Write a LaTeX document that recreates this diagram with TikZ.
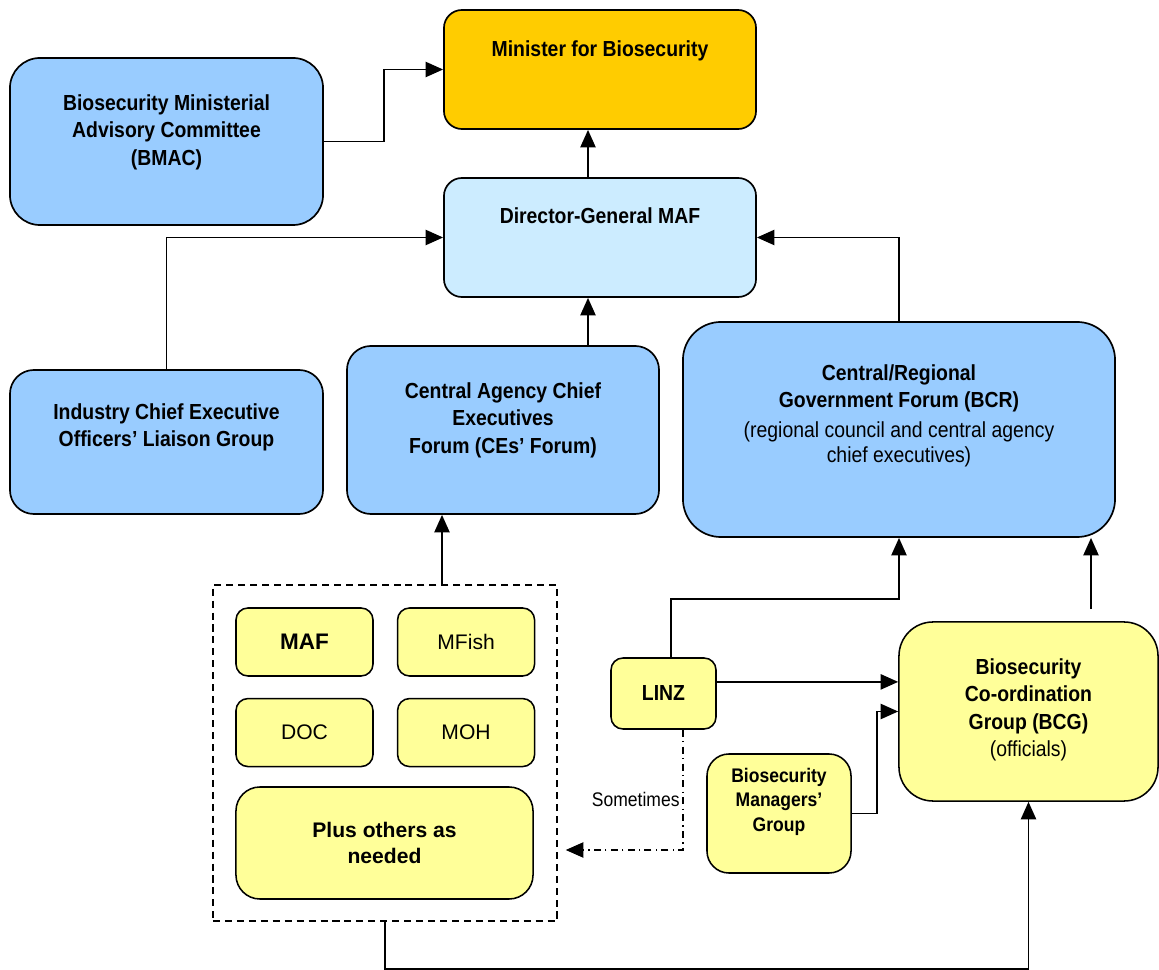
\documentclass[tikz,border=0pt]{standalone}
\usepackage{fontspec}
\setmainfont{Liberation Sans}[FakeStretch=0.89]
\newfontfamily\plainarial{Liberation Sans}
\usepackage{tikz}
\usetikzlibrary{positioning,arrows.meta,calc}
\definecolor{boardblue}{RGB}{153, 204, 255}
\definecolor{paleblue}{RGB}{204, 236, 255}
\definecolor{ministergold}{RGB}{255, 204, 0}
\definecolor{agencyyellow}{RGB}{255, 255, 153}

\begin{document}
\begin{tikzpicture}[
    x=0.025cm, y=-0.025cm,
    every node/.style={align=center, text=black},
    board/.style={rectangle, draw=black, line width=1.2pt, fill=boardblue, rounded corners=0.6cm},
    office/.style={rectangle, draw=black, line width=1.2pt, rounded corners=0.45cm, minimum width=7.8cm, minimum height=2.975cm},
    agency/.style={rectangle, draw=black, line width=1.1pt, fill=agencyyellow, rounded corners=0.3cm, minimum width=3.425cm, minimum height=1.7cm, font=\plainarial\fontsize{15}{18}\selectfont},
    caption/.style={anchor=north, inner sep=0pt, font=\bfseries\fontsize{15.5}{19.6}\selectfont},
    arrow/.style={-{Triangle[length=0.44cm, width=0.38cm]}, line width=1.4pt},
    sometimes/.style={arrow, line width=1.1pt, dash pattern=on 5pt off 3pt on 1pt off 3pt}
]
\useasboundingbox (0,0) rectangle (1159,970);

% Minister and department
\node[office, fill=ministergold, label={[caption, yshift=-0.775cm]north:Minister for Biosecurity}] (minister) at (600,69.5) {};
\node[office, fill=paleblue, label={[caption, yshift=-0.75cm]north:Director-General MAF}] (dg) at (600,237.5) {};

% Advisory and liaison forums
\node[board, rounded corners=0.75cm, minimum width=7.825cm, minimum height=4.175cm,
      label={[caption, yshift=-0.92cm]north:Biosecurity Ministerial\\Advisory Committee\\(BMAC)}] (bmac) at (166.5,141.5) {};
\node[board, minimum width=7.825cm, minimum height=3.6cm,
      label={[caption, yshift=-0.85cm]north:Industry Chief Executive\\Officers’ Liaison Group}] (industry) at (166.5,442) {};
\node[board, minimum width=7.8cm, minimum height=4.2cm,
      label={[caption, yshift=-0.925cm]north:Central Agency Chief\\Executives\\Forum (CEs’ Forum)}] (ces) at (503,430) {};
\node[board, rounded corners=0.95cm, minimum width=10.8cm, minimum height=5.375cm,
      label={[caption, yshift=-1.07cm]north:Central/Regional\\Government Forum (BCR)\\[2pt]\mdseries (regional council and central agency\\[-2pt]\mdseries chief executives)}] (bcr) at (899,429.5) {};

% Agencies (dashed group)
\node[rectangle, draw=black, line width=1pt, dash pattern=on 5pt off 3.5pt, minimum width=8.6cm, minimum height=8.4cm] (partners) at (385,753) {};
\node[agency, font=\plainarial\bfseries\fontsize{16}{18}\selectfont] (maf) at (304.5,642) {MAF};
\node[agency, right=0.575cm of maf] (mfish) {MFish};
\node[agency, below=0.525cm of maf] (doc) {DOC};
\node[agency, right=0.575cm of doc] (moh) {MOH};
\node[agency, rounded corners=0.6cm, minimum width=7.425cm, minimum height=2.8cm, font=\plainarial\bfseries\fontsize{15}{19}\selectfont] (others) at (384.5,843) {Plus others as\\needed};

% Officials
\node[agency, font=\bfseries\fontsize{15.5}{19}\selectfont, minimum width=2.625cm, minimum height=1.775cm] (linz) at (663.5,693.5) {LINZ};
\node[agency, rounded corners=0.55cm, minimum width=3.6cm, minimum height=2.975cm,
      label={[caption, yshift=-0.36cm, font=\bfseries\fontsize{14}{17.4}\selectfont]north:Biosecurity\\Managers’\\Group}] (bmg) at (779,813.5) {};
\node[agency, rounded corners=0.85cm, minimum width=6.475cm, minimum height=4.475cm,
      label={[caption, yshift=-0.925cm]north:Biosecurity\\Co-ordination\\Group (BCG)\\\mdseries (officials)}] (bcg) at (1028.5,711.5) {};

% Guide lines
\coordinate (spine) at (588,0);
\coordinate (upline) at (442,0);
\coordinate (rightline) at (1091,0);
\coordinate (dropline) at (0,850);

% Reporting lines
\draw[arrow] (bmac.east) -- ++(60,0) |- (minister.west);
\draw[arrow] (dg.north -| spine) -- (minister.south -| spine);
\draw[arrow] (ces.north -| spine) -- (dg.south -| spine);
\draw[arrow] (industry.north) |- (dg.west);
\draw[arrow] (bcr.north) |- (dg.east);
\draw[arrow] (partners.north -| upline) -- (ces.south -| upline);
\draw[arrow] ([xshift=0.19cm]linz.north) -- ++(0,-58) -| (bcr.south);
\draw[arrow] ([yshift=0.3cm]bcg.north -| rightline) -- (bcr.south -| rightline);
\draw[arrow] ([yshift=0.29cm]linz.east) -- ([yshift=0.29cm]linz.east -| bcg.west);
\draw[arrow] (bmg.east) -- ++(25,0) |- (bcg.west);
\draw[arrow] (partners.south) -- ++(0,47) -| (bcg.south);

% Occasional link
\draw[sometimes] ([xshift=0.49cm]linz.south) |- ([xshift=0.2cm]partners.east |- dropline)
    node[pos=0.29, left, inner sep=2pt, font=\fontsize{14}{16}\selectfont] {Sometimes};

\end{tikzpicture}
\end{document}
